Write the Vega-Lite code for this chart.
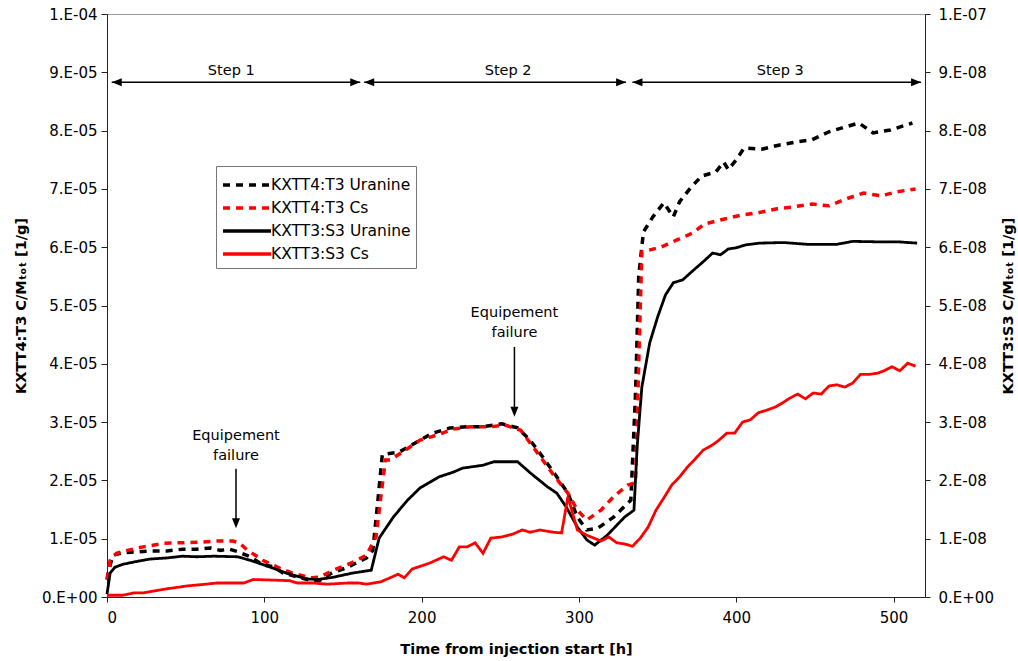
{
  "$schema": "https://vega.github.io/schema/vega-lite/v6.json",
  "width": 818,
  "height": 583,
  "autosize": "none",
  "padding": {"left": 107, "top": 14, "right": 93, "bottom": 64},
  "background": "white",
  "config": {
    "font": "DejaVu Sans",
    "view": {"stroke": "#999999"},
    "axis": {
      "grid": false,
      "domainColor": "#222222",
      "tickColor": "#222222",
      "labelColor": "#000000",
      "titleColor": "#000000",
      "labelFont": "DejaVu Sans",
      "labelFontSize": 15,
      "titleFont": "DejaVu Sans",
      "titleFontSize": 14.5,
      "titleFontWeight": "bold"
    },
    "legend": {
      "title": null,
      "orient": "none",
      "legendX": 109,
      "legendY": 152,
      "padding": 5,
      "strokeColor": "#777777",
      "fillColor": "white",
      "labelFont": "DejaVu Sans",
      "labelFontSize": 15.5,
      "labelColor": "#000000",
      "labelOffset": 10,
      "rowPadding": -5,
      "symbolSize": 576,
      "symbolStrokeWidth": 3.5,
      "symbolType": "M-2,0L2,0",
      "symbolOffset": 12
    }
  },
  "datasets": {
    "t4": [
      {"s": "KXTT4:T3 Uranine", "t": 0, "v": 3e-6},
      {"s": "KXTT4:T3 Uranine", "t": 2, "v": 5.5e-6},
      {"s": "KXTT4:T3 Uranine", "t": 4, "v": 7.2e-6},
      {"s": "KXTT4:T3 Uranine", "t": 10, "v": 7.6e-6},
      {"s": "KXTT4:T3 Uranine", "t": 17, "v": 7.7e-6},
      {"s": "KXTT4:T3 Uranine", "t": 27, "v": 7.9e-6},
      {"s": "KXTT4:T3 Uranine", "t": 38, "v": 7.9e-6},
      {"s": "KXTT4:T3 Uranine", "t": 48, "v": 8.2e-6},
      {"s": "KXTT4:T3 Uranine", "t": 57, "v": 8.2e-6},
      {"s": "KXTT4:T3 Uranine", "t": 66, "v": 8.4e-6},
      {"s": "KXTT4:T3 Uranine", "t": 72, "v": 8.0e-6},
      {"s": "KXTT4:T3 Uranine", "t": 78, "v": 8.2e-6},
      {"s": "KXTT4:T3 Uranine", "t": 83, "v": 7.8e-6},
      {"s": "KXTT4:T3 Uranine", "t": 91, "v": 6.9e-6},
      {"s": "KXTT4:T3 Uranine", "t": 99, "v": 5.5e-6},
      {"s": "KXTT4:T3 Uranine", "t": 106, "v": 5.2e-6},
      {"s": "KXTT4:T3 Uranine", "t": 112, "v": 4.1e-6},
      {"s": "KXTT4:T3 Uranine", "t": 123, "v": 3.3e-6},
      {"s": "KXTT4:T3 Uranine", "t": 129, "v": 2.9e-6},
      {"s": "KXTT4:T3 Uranine", "t": 135, "v": 2.8e-6},
      {"s": "KXTT4:T3 Uranine", "t": 142, "v": 4.0e-6},
      {"s": "KXTT4:T3 Uranine", "t": 152, "v": 5.0e-6},
      {"s": "KXTT4:T3 Uranine", "t": 165, "v": 6.7e-6},
      {"s": "KXTT4:T3 Uranine", "t": 169, "v": 8.0e-6},
      {"s": "KXTT4:T3 Uranine", "t": 172, "v": 1.6e-5},
      {"s": "KXTT4:T3 Uranine", "t": 175, "v": 2.44e-5},
      {"s": "KXTT4:T3 Uranine", "t": 186, "v": 2.49e-5},
      {"s": "KXTT4:T3 Uranine", "t": 197, "v": 2.66e-5},
      {"s": "KXTT4:T3 Uranine", "t": 207, "v": 2.81e-5},
      {"s": "KXTT4:T3 Uranine", "t": 218, "v": 2.9e-5},
      {"s": "KXTT4:T3 Uranine", "t": 229, "v": 2.92e-5},
      {"s": "KXTT4:T3 Uranine", "t": 239, "v": 2.92e-5},
      {"s": "KXTT4:T3 Uranine", "t": 251, "v": 2.97e-5},
      {"s": "KXTT4:T3 Uranine", "t": 261, "v": 2.9e-5},
      {"s": "KXTT4:T3 Uranine", "t": 269, "v": 2.69e-5},
      {"s": "KXTT4:T3 Uranine", "t": 277, "v": 2.4e-5},
      {"s": "KXTT4:T3 Uranine", "t": 286, "v": 2.06e-5},
      {"s": "KXTT4:T3 Uranine", "t": 293, "v": 1.78e-5},
      {"s": "KXTT4:T3 Uranine", "t": 299, "v": 1.37e-5},
      {"s": "KXTT4:T3 Uranine", "t": 305, "v": 1.15e-5},
      {"s": "KXTT4:T3 Uranine", "t": 312, "v": 1.18e-5},
      {"s": "KXTT4:T3 Uranine", "t": 322, "v": 1.37e-5},
      {"s": "KXTT4:T3 Uranine", "t": 333, "v": 1.66e-5},
      {"s": "KXTT4:T3 Uranine", "t": 336, "v": 3.5e-5},
      {"s": "KXTT4:T3 Uranine", "t": 338, "v": 5.5e-5},
      {"s": "KXTT4:T3 Uranine", "t": 341, "v": 6.26e-5},
      {"s": "KXTT4:T3 Uranine", "t": 347, "v": 6.52e-5},
      {"s": "KXTT4:T3 Uranine", "t": 354, "v": 6.76e-5},
      {"s": "KXTT4:T3 Uranine", "t": 360, "v": 6.52e-5},
      {"s": "KXTT4:T3 Uranine", "t": 364, "v": 6.78e-5},
      {"s": "KXTT4:T3 Uranine", "t": 371, "v": 7.02e-5},
      {"s": "KXTT4:T3 Uranine", "t": 378, "v": 7.22e-5},
      {"s": "KXTT4:T3 Uranine", "t": 387, "v": 7.29e-5},
      {"s": "KXTT4:T3 Uranine", "t": 392, "v": 7.46e-5},
      {"s": "KXTT4:T3 Uranine", "t": 395, "v": 7.33e-5},
      {"s": "KXTT4:T3 Uranine", "t": 400, "v": 7.5e-5},
      {"s": "KXTT4:T3 Uranine", "t": 405, "v": 7.7e-5},
      {"s": "KXTT4:T3 Uranine", "t": 416, "v": 7.68e-5},
      {"s": "KXTT4:T3 Uranine", "t": 427, "v": 7.75e-5},
      {"s": "KXTT4:T3 Uranine", "t": 439, "v": 7.81e-5},
      {"s": "KXTT4:T3 Uranine", "t": 448, "v": 7.84e-5},
      {"s": "KXTT4:T3 Uranine", "t": 459, "v": 7.98e-5},
      {"s": "KXTT4:T3 Uranine", "t": 469, "v": 8.06e-5},
      {"s": "KXTT4:T3 Uranine", "t": 478, "v": 8.13e-5},
      {"s": "KXTT4:T3 Uranine", "t": 487, "v": 7.96e-5},
      {"s": "KXTT4:T3 Uranine", "t": 498, "v": 8.01e-5},
      {"s": "KXTT4:T3 Uranine", "t": 512, "v": 8.13e-5},
      {"s": "KXTT4:T3 Cs", "t": 0, "v": 3e-6},
      {"s": "KXTT4:T3 Cs", "t": 2, "v": 6.3e-6},
      {"s": "KXTT4:T3 Cs", "t": 6, "v": 7.5e-6},
      {"s": "KXTT4:T3 Cs", "t": 13, "v": 8.0e-6},
      {"s": "KXTT4:T3 Cs", "t": 23, "v": 8.6e-6},
      {"s": "KXTT4:T3 Cs", "t": 36, "v": 9.2e-6},
      {"s": "KXTT4:T3 Cs", "t": 46, "v": 9.3e-6},
      {"s": "KXTT4:T3 Cs", "t": 59, "v": 9.4e-6},
      {"s": "KXTT4:T3 Cs", "t": 70, "v": 9.6e-6},
      {"s": "KXTT4:T3 Cs", "t": 80, "v": 9.6e-6},
      {"s": "KXTT4:T3 Cs", "t": 84, "v": 9.3e-6},
      {"s": "KXTT4:T3 Cs", "t": 89, "v": 8.1e-6},
      {"s": "KXTT4:T3 Cs", "t": 99, "v": 6.3e-6},
      {"s": "KXTT4:T3 Cs", "t": 110, "v": 4.9e-6},
      {"s": "KXTT4:T3 Cs", "t": 118, "v": 4.1e-6},
      {"s": "KXTT4:T3 Cs", "t": 129, "v": 3.3e-6},
      {"s": "KXTT4:T3 Cs", "t": 135, "v": 3.4e-6},
      {"s": "KXTT4:T3 Cs", "t": 144, "v": 4.6e-6},
      {"s": "KXTT4:T3 Cs", "t": 155, "v": 5.8e-6},
      {"s": "KXTT4:T3 Cs", "t": 165, "v": 7.2e-6},
      {"s": "KXTT4:T3 Cs", "t": 171, "v": 1.03e-5},
      {"s": "KXTT4:T3 Cs", "t": 174, "v": 1.7e-5},
      {"s": "KXTT4:T3 Cs", "t": 177, "v": 2.35e-5},
      {"s": "KXTT4:T3 Cs", "t": 180, "v": 2.35e-5},
      {"s": "KXTT4:T3 Cs", "t": 188, "v": 2.49e-5},
      {"s": "KXTT4:T3 Cs", "t": 199, "v": 2.69e-5},
      {"s": "KXTT4:T3 Cs", "t": 210, "v": 2.78e-5},
      {"s": "KXTT4:T3 Cs", "t": 220, "v": 2.88e-5},
      {"s": "KXTT4:T3 Cs", "t": 231, "v": 2.92e-5},
      {"s": "KXTT4:T3 Cs", "t": 244, "v": 2.92e-5},
      {"s": "KXTT4:T3 Cs", "t": 253, "v": 2.95e-5},
      {"s": "KXTT4:T3 Cs", "t": 263, "v": 2.86e-5},
      {"s": "KXTT4:T3 Cs", "t": 271, "v": 2.57e-5},
      {"s": "KXTT4:T3 Cs", "t": 284, "v": 2.09e-5},
      {"s": "KXTT4:T3 Cs", "t": 293, "v": 1.78e-5},
      {"s": "KXTT4:T3 Cs", "t": 299, "v": 1.49e-5},
      {"s": "KXTT4:T3 Cs", "t": 305, "v": 1.32e-5},
      {"s": "KXTT4:T3 Cs", "t": 314, "v": 1.49e-5},
      {"s": "KXTT4:T3 Cs", "t": 322, "v": 1.72e-5},
      {"s": "KXTT4:T3 Cs", "t": 331, "v": 1.92e-5},
      {"s": "KXTT4:T3 Cs", "t": 336, "v": 1.96e-5},
      {"s": "KXTT4:T3 Cs", "t": 338, "v": 4.0e-5},
      {"s": "KXTT4:T3 Cs", "t": 340, "v": 5.92e-5},
      {"s": "KXTT4:T3 Cs", "t": 352, "v": 6.0e-5},
      {"s": "KXTT4:T3 Cs", "t": 362, "v": 6.12e-5},
      {"s": "KXTT4:T3 Cs", "t": 372, "v": 6.24e-5},
      {"s": "KXTT4:T3 Cs", "t": 380, "v": 6.4e-5},
      {"s": "KXTT4:T3 Cs", "t": 392, "v": 6.48e-5},
      {"s": "KXTT4:T3 Cs", "t": 403, "v": 6.55e-5},
      {"s": "KXTT4:T3 Cs", "t": 414, "v": 6.59e-5},
      {"s": "KXTT4:T3 Cs", "t": 426, "v": 6.66e-5},
      {"s": "KXTT4:T3 Cs", "t": 436, "v": 6.69e-5},
      {"s": "KXTT4:T3 Cs", "t": 448, "v": 6.74e-5},
      {"s": "KXTT4:T3 Cs", "t": 459, "v": 6.71e-5},
      {"s": "KXTT4:T3 Cs", "t": 470, "v": 6.83e-5},
      {"s": "KXTT4:T3 Cs", "t": 481, "v": 6.93e-5},
      {"s": "KXTT4:T3 Cs", "t": 492, "v": 6.88e-5},
      {"s": "KXTT4:T3 Cs", "t": 502, "v": 6.95e-5},
      {"s": "KXTT4:T3 Cs", "t": 514, "v": 7.0e-5}
    ],
    "s3": [
      {"s": "KXTT3:S3 Uranine", "t": 0, "v": 5e-10},
      {"s": "KXTT3:S3 Uranine", "t": 2, "v": 4.1e-9},
      {"s": "KXTT3:S3 Uranine", "t": 5, "v": 5.1e-9},
      {"s": "KXTT3:S3 Uranine", "t": 10, "v": 5.6e-9},
      {"s": "KXTT3:S3 Uranine", "t": 17, "v": 6.0e-9},
      {"s": "KXTT3:S3 Uranine", "t": 27, "v": 6.5e-9},
      {"s": "KXTT3:S3 Uranine", "t": 38, "v": 6.7e-9},
      {"s": "KXTT3:S3 Uranine", "t": 48, "v": 7.0e-9},
      {"s": "KXTT3:S3 Uranine", "t": 57, "v": 6.9e-9},
      {"s": "KXTT3:S3 Uranine", "t": 68, "v": 7.0e-9},
      {"s": "KXTT3:S3 Uranine", "t": 83, "v": 6.9e-9},
      {"s": "KXTT3:S3 Uranine", "t": 91, "v": 6.3e-9},
      {"s": "KXTT3:S3 Uranine", "t": 102, "v": 5.3e-9},
      {"s": "KXTT3:S3 Uranine", "t": 114, "v": 4.1e-9},
      {"s": "KXTT3:S3 Uranine", "t": 127, "v": 3.1e-9},
      {"s": "KXTT3:S3 Uranine", "t": 134, "v": 3.0e-9},
      {"s": "KXTT3:S3 Uranine", "t": 144, "v": 3.4e-9},
      {"s": "KXTT3:S3 Uranine", "t": 156, "v": 4.1e-9},
      {"s": "KXTT3:S3 Uranine", "t": 168, "v": 4.6e-9},
      {"s": "KXTT3:S3 Uranine", "t": 173, "v": 1.01e-8},
      {"s": "KXTT3:S3 Uranine", "t": 182, "v": 1.37e-8},
      {"s": "KXTT3:S3 Uranine", "t": 191, "v": 1.66e-8},
      {"s": "KXTT3:S3 Uranine", "t": 199, "v": 1.87e-8},
      {"s": "KXTT3:S3 Uranine", "t": 211, "v": 2.06e-8},
      {"s": "KXTT3:S3 Uranine", "t": 220, "v": 2.14e-8},
      {"s": "KXTT3:S3 Uranine", "t": 226, "v": 2.21e-8},
      {"s": "KXTT3:S3 Uranine", "t": 239, "v": 2.26e-8},
      {"s": "KXTT3:S3 Uranine", "t": 246, "v": 2.32e-8},
      {"s": "KXTT3:S3 Uranine", "t": 261, "v": 2.32e-8},
      {"s": "KXTT3:S3 Uranine", "t": 269, "v": 2.13e-8},
      {"s": "KXTT3:S3 Uranine", "t": 280, "v": 1.89e-8},
      {"s": "KXTT3:S3 Uranine", "t": 286, "v": 1.78e-8},
      {"s": "KXTT3:S3 Uranine", "t": 292, "v": 1.54e-8},
      {"s": "KXTT3:S3 Uranine", "t": 299, "v": 1.2e-8},
      {"s": "KXTT3:S3 Uranine", "t": 305, "v": 9.8e-9},
      {"s": "KXTT3:S3 Uranine", "t": 310, "v": 8.9e-9},
      {"s": "KXTT3:S3 Uranine", "t": 318, "v": 1.06e-8},
      {"s": "KXTT3:S3 Uranine", "t": 329, "v": 1.37e-8},
      {"s": "KXTT3:S3 Uranine", "t": 335, "v": 1.49e-8},
      {"s": "KXTT3:S3 Uranine", "t": 337, "v": 2.57e-8},
      {"s": "KXTT3:S3 Uranine", "t": 340, "v": 3.6e-8},
      {"s": "KXTT3:S3 Uranine", "t": 345, "v": 4.36e-8},
      {"s": "KXTT3:S3 Uranine", "t": 350, "v": 4.8e-8},
      {"s": "KXTT3:S3 Uranine", "t": 355, "v": 5.18e-8},
      {"s": "KXTT3:S3 Uranine", "t": 360, "v": 5.39e-8},
      {"s": "KXTT3:S3 Uranine", "t": 366, "v": 5.44e-8},
      {"s": "KXTT3:S3 Uranine", "t": 373, "v": 5.61e-8},
      {"s": "KXTT3:S3 Uranine", "t": 379, "v": 5.75e-8},
      {"s": "KXTT3:S3 Uranine", "t": 385, "v": 5.9e-8},
      {"s": "KXTT3:S3 Uranine", "t": 390, "v": 5.87e-8},
      {"s": "KXTT3:S3 Uranine", "t": 395, "v": 5.97e-8},
      {"s": "KXTT3:S3 Uranine", "t": 400, "v": 5.99e-8},
      {"s": "KXTT3:S3 Uranine", "t": 406, "v": 6.04e-8},
      {"s": "KXTT3:S3 Uranine", "t": 415, "v": 6.07e-8},
      {"s": "KXTT3:S3 Uranine", "t": 430, "v": 6.08e-8},
      {"s": "KXTT3:S3 Uranine", "t": 445, "v": 6.05e-8},
      {"s": "KXTT3:S3 Uranine", "t": 464, "v": 6.05e-8},
      {"s": "KXTT3:S3 Uranine", "t": 474, "v": 6.1e-8},
      {"s": "KXTT3:S3 Uranine", "t": 494, "v": 6.09e-8},
      {"s": "KXTT3:S3 Uranine", "t": 504, "v": 6.09e-8},
      {"s": "KXTT3:S3 Uranine", "t": 515, "v": 6.07e-8},
      {"s": "KXTT3:S3 Cs", "t": 0, "v": 3e-10},
      {"s": "KXTT3:S3 Cs", "t": 10, "v": 3e-10},
      {"s": "KXTT3:S3 Cs", "t": 17, "v": 7e-10},
      {"s": "KXTT3:S3 Cs", "t": 23, "v": 7e-10},
      {"s": "KXTT3:S3 Cs", "t": 29, "v": 1.0e-9},
      {"s": "KXTT3:S3 Cs", "t": 38, "v": 1.4e-9},
      {"s": "KXTT3:S3 Cs", "t": 51, "v": 1.9e-9},
      {"s": "KXTT3:S3 Cs", "t": 59, "v": 2.1e-9},
      {"s": "KXTT3:S3 Cs", "t": 70, "v": 2.4e-9},
      {"s": "KXTT3:S3 Cs", "t": 80, "v": 2.4e-9},
      {"s": "KXTT3:S3 Cs", "t": 87, "v": 2.4e-9},
      {"s": "KXTT3:S3 Cs", "t": 93, "v": 3.0e-9},
      {"s": "KXTT3:S3 Cs", "t": 106, "v": 2.9e-9},
      {"s": "KXTT3:S3 Cs", "t": 116, "v": 2.8e-9},
      {"s": "KXTT3:S3 Cs", "t": 121, "v": 2.4e-9},
      {"s": "KXTT3:S3 Cs", "t": 131, "v": 2.4e-9},
      {"s": "KXTT3:S3 Cs", "t": 140, "v": 2.2e-9},
      {"s": "KXTT3:S3 Cs", "t": 153, "v": 2.4e-9},
      {"s": "KXTT3:S3 Cs", "t": 160, "v": 2.4e-9},
      {"s": "KXTT3:S3 Cs", "t": 165, "v": 2.2e-9},
      {"s": "KXTT3:S3 Cs", "t": 174, "v": 2.6e-9},
      {"s": "KXTT3:S3 Cs", "t": 180, "v": 3.3e-9},
      {"s": "KXTT3:S3 Cs", "t": 185, "v": 3.9e-9},
      {"s": "KXTT3:S3 Cs", "t": 189, "v": 3.3e-9},
      {"s": "KXTT3:S3 Cs", "t": 194, "v": 4.8e-9},
      {"s": "KXTT3:S3 Cs", "t": 205, "v": 5.8e-9},
      {"s": "KXTT3:S3 Cs", "t": 214, "v": 6.9e-9},
      {"s": "KXTT3:S3 Cs", "t": 219, "v": 6.3e-9},
      {"s": "KXTT3:S3 Cs", "t": 224, "v": 8.6e-9},
      {"s": "KXTT3:S3 Cs", "t": 229, "v": 8.6e-9},
      {"s": "KXTT3:S3 Cs", "t": 234, "v": 9.3e-9},
      {"s": "KXTT3:S3 Cs", "t": 239, "v": 7.5e-9},
      {"s": "KXTT3:S3 Cs", "t": 244, "v": 1.01e-8},
      {"s": "KXTT3:S3 Cs", "t": 251, "v": 1.03e-8},
      {"s": "KXTT3:S3 Cs", "t": 258, "v": 1.08e-8},
      {"s": "KXTT3:S3 Cs", "t": 264, "v": 1.15e-8},
      {"s": "KXTT3:S3 Cs", "t": 269, "v": 1.11e-8},
      {"s": "KXTT3:S3 Cs", "t": 275, "v": 1.15e-8},
      {"s": "KXTT3:S3 Cs", "t": 284, "v": 1.11e-8},
      {"s": "KXTT3:S3 Cs", "t": 289, "v": 1.1e-8},
      {"s": "KXTT3:S3 Cs", "t": 293, "v": 1.72e-8},
      {"s": "KXTT3:S3 Cs", "t": 299, "v": 1.15e-8},
      {"s": "KXTT3:S3 Cs", "t": 305, "v": 1.06e-8},
      {"s": "KXTT3:S3 Cs", "t": 314, "v": 9.6e-9},
      {"s": "KXTT3:S3 Cs", "t": 319, "v": 1.03e-8},
      {"s": "KXTT3:S3 Cs", "t": 324, "v": 9.3e-9},
      {"s": "KXTT3:S3 Cs", "t": 329, "v": 9.1e-9},
      {"s": "KXTT3:S3 Cs", "t": 334, "v": 8.7e-9},
      {"s": "KXTT3:S3 Cs", "t": 339, "v": 1.01e-8},
      {"s": "KXTT3:S3 Cs", "t": 344, "v": 1.2e-8},
      {"s": "KXTT3:S3 Cs", "t": 349, "v": 1.49e-8},
      {"s": "KXTT3:S3 Cs", "t": 354, "v": 1.7e-8},
      {"s": "KXTT3:S3 Cs", "t": 359, "v": 1.92e-8},
      {"s": "KXTT3:S3 Cs", "t": 364, "v": 2.06e-8},
      {"s": "KXTT3:S3 Cs", "t": 369, "v": 2.23e-8},
      {"s": "KXTT3:S3 Cs", "t": 374, "v": 2.37e-8},
      {"s": "KXTT3:S3 Cs", "t": 379, "v": 2.52e-8},
      {"s": "KXTT3:S3 Cs", "t": 385, "v": 2.61e-8},
      {"s": "KXTT3:S3 Cs", "t": 389, "v": 2.69e-8},
      {"s": "KXTT3:S3 Cs", "t": 394, "v": 2.81e-8},
      {"s": "KXTT3:S3 Cs", "t": 399, "v": 2.81e-8},
      {"s": "KXTT3:S3 Cs", "t": 404, "v": 3.0e-8},
      {"s": "KXTT3:S3 Cs", "t": 409, "v": 3.04e-8},
      {"s": "KXTT3:S3 Cs", "t": 414, "v": 3.16e-8},
      {"s": "KXTT3:S3 Cs", "t": 420, "v": 3.21e-8},
      {"s": "KXTT3:S3 Cs", "t": 425, "v": 3.26e-8},
      {"s": "KXTT3:S3 Cs", "t": 430, "v": 3.34e-8},
      {"s": "KXTT3:S3 Cs", "t": 434, "v": 3.41e-8},
      {"s": "KXTT3:S3 Cs", "t": 439, "v": 3.48e-8},
      {"s": "KXTT3:S3 Cs", "t": 444, "v": 3.4e-8},
      {"s": "KXTT3:S3 Cs", "t": 449, "v": 3.5e-8},
      {"s": "KXTT3:S3 Cs", "t": 454, "v": 3.48e-8},
      {"s": "KXTT3:S3 Cs", "t": 459, "v": 3.62e-8},
      {"s": "KXTT3:S3 Cs", "t": 464, "v": 3.64e-8},
      {"s": "KXTT3:S3 Cs", "t": 469, "v": 3.6e-8},
      {"s": "KXTT3:S3 Cs", "t": 474, "v": 3.67e-8},
      {"s": "KXTT3:S3 Cs", "t": 479, "v": 3.82e-8},
      {"s": "KXTT3:S3 Cs", "t": 485, "v": 3.82e-8},
      {"s": "KXTT3:S3 Cs", "t": 490, "v": 3.84e-8},
      {"s": "KXTT3:S3 Cs", "t": 494, "v": 3.88e-8},
      {"s": "KXTT3:S3 Cs", "t": 499, "v": 3.95e-8},
      {"s": "KXTT3:S3 Cs", "t": 504, "v": 3.88e-8},
      {"s": "KXTT3:S3 Cs", "t": 509, "v": 4.01e-8},
      {"s": "KXTT3:S3 Cs", "t": 514, "v": 3.96e-8}
    ],
    "steps": [
      {"t": 3, "t2": 161, "v": 8.83e-5},
      {"t": 163.5, "t2": 330, "v": 8.83e-5},
      {"t": 334, "t2": 517.5, "v": 8.83e-5}
    ],
    "leftHeads": [
      {"t": 3, "v": 8.83e-5},
      {"t": 163.5, "v": 8.83e-5},
      {"t": 334, "v": 8.83e-5}
    ],
    "rightHeads": [
      {"t": 161, "v": 8.83e-5},
      {"t": 330, "v": 8.83e-5},
      {"t": 517.5, "v": 8.83e-5}
    ],
    "failArrows": [
      {"t": 82, "v": 2.2e-5, "v2": 1.3e-5},
      {"t": 259, "v": 4.29e-5, "v2": 3.2e-5}
    ],
    "downHeads": [
      {"t": 82, "v": 1.18e-5},
      {"t": 259, "v": 3.09e-5}
    ],
    "labels": [
      {"t": 79, "v": 9.02e-5, "label": "Step 1"},
      {"t": 255, "v": 9.02e-5, "label": "Step 2"},
      {"t": 428, "v": 9.02e-5, "label": "Step 3"},
      {"t": 82, "v": 2.76e-5, "label": "Equipement"},
      {"t": 82, "v": 2.42e-5, "label": "failure"},
      {"t": 259, "v": 4.87e-5, "label": "Equipement"},
      {"t": 259, "v": 4.53e-5, "label": "failure"}
    ]
  },
  "layer": [
    {
      "encoding": {
        "x": {
          "field": "t",
          "type": "quantitative",
          "scale": {"domain": [0, 520], "nice": false},
          "axis": {
            "values": [0, 100, 200, 300, 400, 500],
            "title": "Time from injection start [h]",
            "tickSize": 5,
            "labelPadding": 8,
            "titleY": 52,
            "titleBaseline": "middle"
          }
        },
        "y": {
          "field": "v",
          "type": "quantitative",
          "scale": {"domain": [0, 0.0001], "nice": false},
          "axis": {
            "values": [0, 1e-5, 2e-5, 3e-5, 4e-5, 5e-5, 6e-5, 7e-5, 8e-5, 9e-5, 0.0001],
            "labelExpr": "datum.value == 0 ? '0.E+00' : (datum.value > 0.000095 ? '1.E-04' : round(datum.value * 100000) + '.E-05')",
            "tickSize": 6,
            "labelPadding": 4,
            "title": "KXTT4:T3 C/Mₜₒₜ [1/g]",
            "titleAngle": 270,
            "titleX": -86,
            "titleY": 291.5,
            "titleBaseline": "middle",
            "titleAlign": "center"
          }
        }
      },
      "layer": [
        {
          "data": {"name": "t4"},
          "mark": {"type": "line", "strokeWidth": 3.5},
          "encoding": {
            "color": {
              "field": "s",
              "type": "nominal",
              "scale": {
                "domain": ["KXTT4:T3 Uranine", "KXTT4:T3 Cs", "KXTT3:S3 Uranine", "KXTT3:S3 Cs"],
                "range": ["#000000", "#ff0000", "#000000", "#ff0000"]
              }
            },
            "strokeDash": {
              "field": "s",
              "type": "nominal",
              "scale": {
                "domain": ["KXTT4:T3 Uranine", "KXTT4:T3 Cs", "KXTT3:S3 Uranine", "KXTT3:S3 Cs"],
                "range": [[7, 6], [7, 6], [1, 0], [1, 0]]
              }
            }
          }
        },
        {
          "data": {"name": "steps"},
          "mark": {"type": "rule", "color": "#000000", "strokeWidth": 1.5},
          "encoding": {"x2": {"field": "t2"}}
        },
        {
          "data": {"name": "leftHeads"},
          "mark": {"type": "point", "shape": "M0,0L1,-0.4L1,0.4Z", "size": 400, "filled": true, "color": "#000000", "opacity": 1, "strokeWidth": 0}
        },
        {
          "data": {"name": "rightHeads"},
          "mark": {"type": "point", "shape": "M0,0L-1,-0.4L-1,0.4Z", "size": 400, "filled": true, "color": "#000000", "opacity": 1, "strokeWidth": 0}
        },
        {
          "data": {"name": "failArrows"},
          "mark": {"type": "rule", "color": "#000000", "strokeWidth": 1.5},
          "encoding": {"y2": {"field": "v2"}}
        },
        {
          "data": {"name": "downHeads"},
          "mark": {"type": "point", "shape": "M0,0L-0.4,-1L0.4,-1Z", "size": 400, "filled": true, "color": "#000000", "opacity": 1, "strokeWidth": 0}
        },
        {
          "data": {"name": "labels"},
          "mark": {"type": "text", "font": "DejaVu Sans", "fontSize": 14.5, "baseline": "middle", "align": "center", "color": "#000000"},
          "encoding": {"text": {"field": "label", "type": "nominal"}}
        }
      ]
    },
    {
      "data": {"name": "s3"},
      "mark": {"type": "line", "strokeWidth": 2.8},
      "encoding": {
        "x": {
          "field": "t",
          "type": "quantitative",
          "scale": {"domain": [0, 520], "nice": false},
          "axis": {
            "values": [0, 100, 200, 300, 400, 500],
            "title": "Time from injection start [h]",
            "tickSize": 5,
            "labelPadding": 8,
            "titleY": 52,
            "titleBaseline": "middle"
          }
        },
        "y": {
          "field": "v",
          "type": "quantitative",
          "scale": {"domain": [0, 1e-7], "nice": false},
          "axis": {
            "orient": "right",
            "values": [0, 1e-8, 2e-8, 3e-8, 4e-8, 5e-8, 6e-8, 7e-8, 8e-8, 9e-8, 1e-7],
            "labelExpr": "datum.value == 0 ? '0.E+00' : (datum.value > 9.5e-8 ? '1.E-07' : round(datum.value * 100000000) + '.E-08')",
            "tickSize": 5,
            "labelPadding": 8,
            "title": "KXTT3:S3 C/Mₜₒₜ [1/g]",
            "titleAngle": 270,
            "titleX": 83,
            "titleY": 291.5,
            "titleBaseline": "middle",
            "titleAlign": "center"
          }
        },
        "color": {
          "field": "s",
          "type": "nominal",
          "scale": {
            "domain": ["KXTT4:T3 Uranine", "KXTT4:T3 Cs", "KXTT3:S3 Uranine", "KXTT3:S3 Cs"],
            "range": ["#000000", "#ff0000", "#000000", "#ff0000"]
          }
        },
        "strokeDash": {
          "field": "s",
          "type": "nominal",
          "scale": {
            "domain": ["KXTT4:T3 Uranine", "KXTT4:T3 Cs", "KXTT3:S3 Uranine", "KXTT3:S3 Cs"],
            "range": [[7, 6], [7, 6], [1, 0], [1, 0]]
          }
        }
      }
    }
  ],
  "resolve": {"scale": {"y": "independent"}}
}
